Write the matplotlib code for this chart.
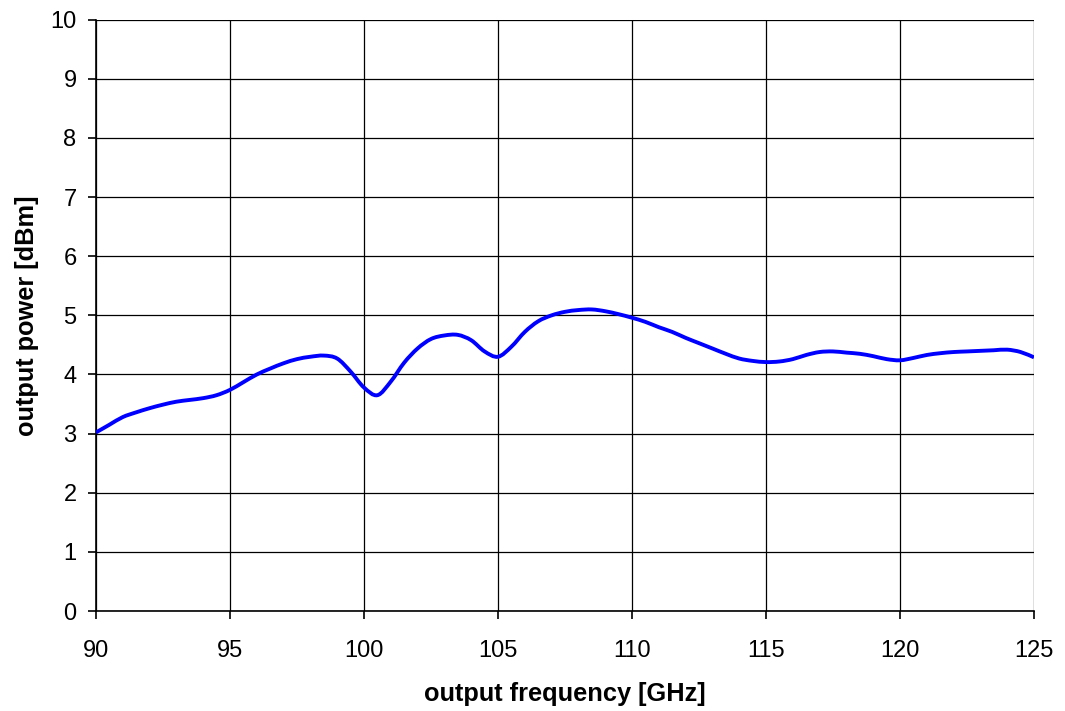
import numpy as np
import matplotlib
matplotlib.use('Agg')
import matplotlib.pyplot as plt
from matplotlib.path import Path
from matplotlib.patches import PathPatch

plt.rcParams['font.family'] = ['Liberation Sans', 'DejaVu Sans']

# values
freq = [90, 90.5, 91, 91.5, 92, 92.5, 93, 93.5, 94, 94.5,
        95, 95.5, 96, 96.5, 97, 97.5, 98, 98.5, 99, 99.5,
        100, 100.5, 101, 101.5, 102, 102.5, 103, 103.5, 104, 104.5,
        105, 105.5, 106, 106.5, 107, 107.5, 108, 108.5, 109, 109.5,
        110, 110.5, 111, 111.5, 112, 112.5, 113, 113.5, 114, 114.5,
        115, 115.5, 116, 116.5, 117, 117.5, 118, 118.5, 119, 119.5,
        120, 120.5, 121, 121.5, 122, 122.5, 123, 123.5, 124, 124.5, 125]
power = [3.02, 3.15, 3.28, 3.36, 3.43, 3.49, 3.54, 3.57, 3.60, 3.65,
         3.74, 3.87, 4.00, 4.10, 4.19, 4.26, 4.30, 4.32, 4.27, 4.05,
         3.78, 3.65, 3.88, 4.20, 4.44, 4.60, 4.66, 4.67, 4.58, 4.39,
         4.30, 4.47, 4.72, 4.90, 5.00, 5.06, 5.09, 5.10, 5.07, 5.02,
         4.96, 4.89, 4.80, 4.72, 4.62, 4.53, 4.44, 4.35, 4.27, 4.23,
         4.21, 4.22, 4.26, 4.33, 4.38, 4.39, 4.37, 4.35, 4.31, 4.26,
         4.24, 4.28, 4.33, 4.36, 4.38, 4.39, 4.40, 4.41, 4.42, 4.38, 4.29]

xticks = [90, 95, 100, 105, 110, 115, 120, 125]
yticks = list(range(0, 11))


def smooth_path(xs, ys):
    # Catmull-Rom style smoothed line (like a spreadsheet "smoothed line")
    p = np.column_stack([xs, ys]).astype(float)
    ext = np.vstack([p[0], p, p[-1]])
    verts = [p[0]]
    codes = [Path.MOVETO]
    for i in range(len(p) - 1):
        p0, p1, p2, p3 = ext[i], ext[i + 1], ext[i + 2], ext[i + 3]
        verts += [p1 + (p2 - p0) / 6, p2 - (p3 - p1) / 6, p2]
        codes += [Path.CURVE4] * 3
    return Path(verts, codes)


fig = plt.figure(figsize=(10.65, 7.11), dpi=100)
ax = fig.add_axes([0.0901, 0.1406, 0.8808, 0.8317])

ax.add_patch(PathPatch(smooth_path(freq, power), facecolor='none',
                       edgecolor='#0000FF', linewidth=2.8, zorder=3))

ax.set_xlim(90, 125)
ax.set_ylim(0, 10)
ax.set_xticks(xticks)
ax.set_yticks(yticks)
ax.grid(True, color='black', linewidth=0.9)
ax.set_axisbelow(True)
for s in ['top', 'right']:
    ax.spines[s].set_visible(False)
for s in ['left', 'bottom']:
    ax.spines[s].set_linewidth(1.2)
ax.tick_params(direction='out', length=6, width=1.2, labelsize=17)
ax.tick_params(axis='x', pad=15)
ax.tick_params(axis='y', pad=8)

ax.set_xlabel('output frequency [GHz]', fontsize=18.3, fontweight='bold', labelpad=14)
ax.set_ylabel('output power [dBm]', fontsize=18.3, fontweight='bold', labelpad=8)

fig.savefig('out.png', dpi=100)
